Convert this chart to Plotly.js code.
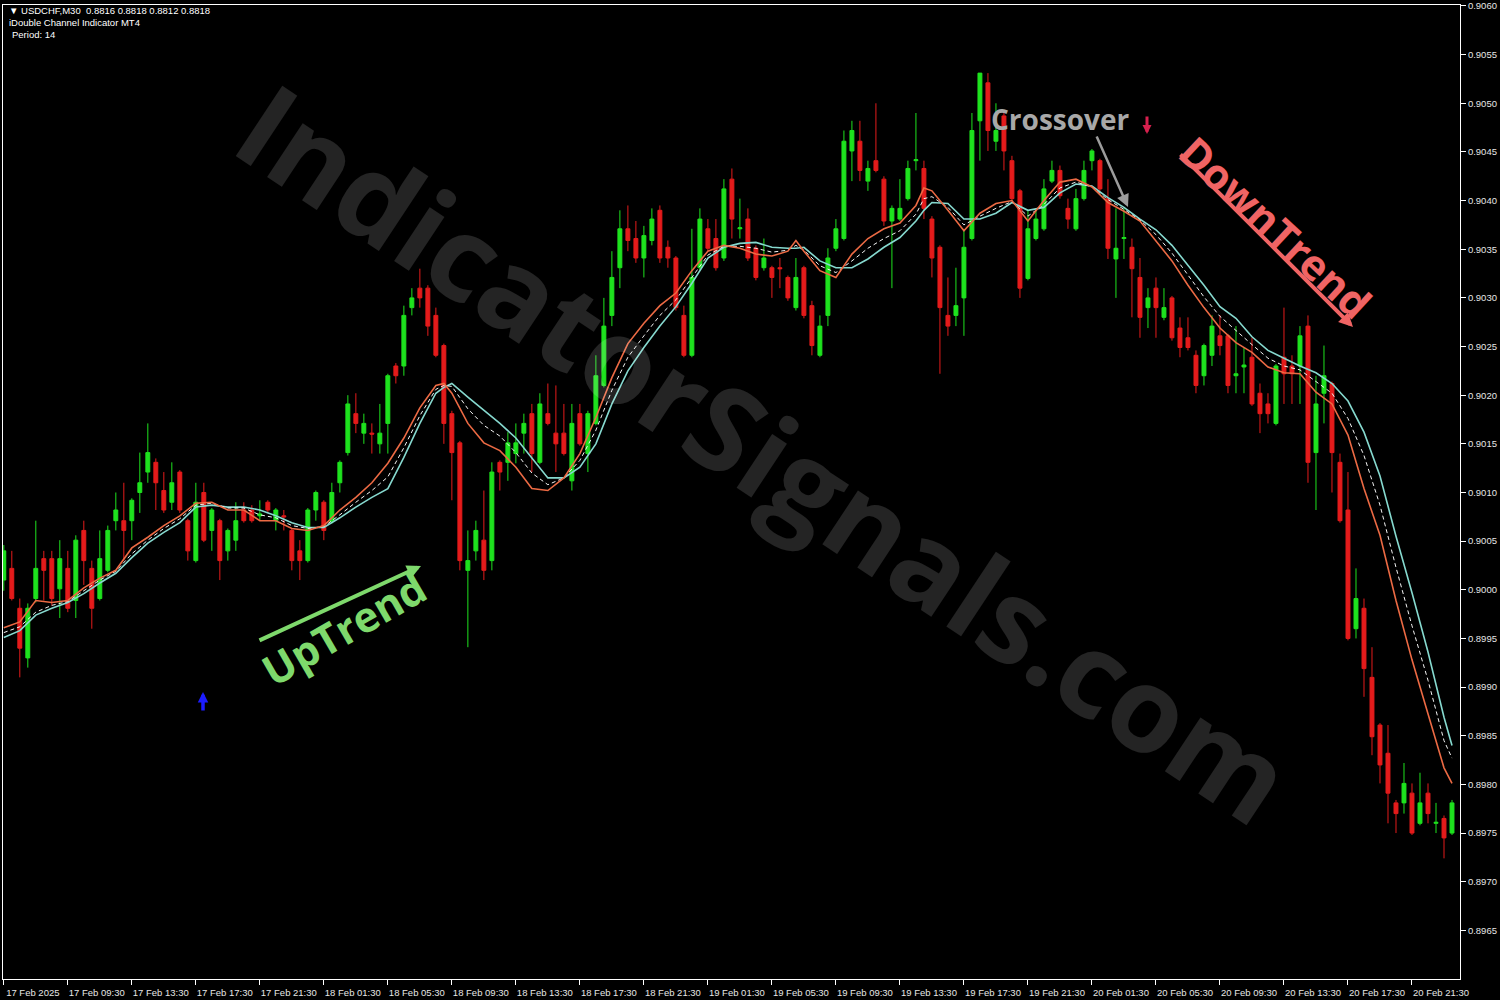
<!DOCTYPE html>
<html><head><meta charset="utf-8">
<script src="https://cdn.plot.ly/plotly-3.0.1.min.js"></script>
<style>html,body{margin:0;padding:0;background:#000;}#chart{width:1500px;height:1000px;}</style>
</head><body><div id="chart"></div>
<script>
// ---- header texts ----
const headerLine1 = "\u25BC USDCHF,M30\u00a0\u00a00.8816 0.8818 0.8812 0.8818";
const headerLine2 = "iDouble Channel Indicator MT4";
const headerLine3 = "Period: 14";

// ---- time axis (M30 bars starting 17 Feb 2025 05:30) ----
const startUTC = Date.UTC(2025, 1, 17, 5, 30);
const barMinutes = 30;
const tickBars = [0,8,16,24,32,40,48,56,64,72,80,88,96,104,112,120,128,136,144,152,160,168,176];
const tickLabels = ["17 Feb 2025","17 Feb 09:30","17 Feb 13:30","17 Feb 17:30","17 Feb 21:30",
  "18 Feb 01:30","18 Feb 05:30","18 Feb 09:30","18 Feb 13:30","18 Feb 17:30","18 Feb 21:30",
  "19 Feb 01:30","19 Feb 05:30","19 Feb 09:30","19 Feb 13:30","19 Feb 17:30","19 Feb 21:30",
  "20 Feb 01:30","20 Feb 05:30","20 Feb 09:30","20 Feb 13:30","20 Feb 17:30","20 Feb 21:30"];
const priceTicks = [0.8965,0.8970,0.8975,0.8980,0.8985,0.8990,0.8995,0.9000,0.9005,0.9010,0.9015,
  0.9020,0.9025,0.9030,0.9035,0.9040,0.9045,0.9050,0.9055,0.9060];

// ---- candles ----
const open = [.90010,.90022,.89981,.89930,.89991,.90032,.90032,.90001,.90022,.89989,
.90061,.90022,.89991,.90020,.90071,.90071,.90071,.90100,.90121,.90131,
.90102,.90090,.90121,.90071,.90030,.90100,.90061,.90071,.90040,.90051,
.90082,.90082,.90076,.90090,.90071,.90076,.90061,.90040,.90030,.90082,
.90090,.90070,.90110,.90141,.90181,.90161,.90161,.90150,.90171,.90230,
.90230,.90290,.90310,.90310,.90282,.90251,.90181,.90151,.90020,.90040,
.90051,.90030,.90131,.90131,.90140,.90161,.90181,.90131,.90181,.90161,
.90161,.90112,.90181,.90140,.90171,.90210,.90282,.90331,.90371,.90361,
.90341,.90359,.90390,.90352,.90341,.90282,.90241,.90331,.90371,.90361,
.90341,.90422,.90371,.90381,.90351,.90331,.90331,.90331,.90321,.90290,
.90331,.90292,.90241,.90282,.90351,.90361,.90451,.90461,.90420,.90441,
.90422,.90379,.90381,.90402,.90441,.90433,.90381,.90352,.90282,.90282,
.90300,.90361,.90482,.90521,.90461,.90487,.90441,.90410,.90320,.90361,
.90371,.90420,.90431,.90392,.90371,.90402,.90441,.90441,.90402,.90340,
.90361,.90352,.90321,.90290,.90310,.90280,.90300,.90269,.90259,.90241,
.90220,.90241,.90261,.90261,.90220,.90229,.90239,.90202,.90191,.90171,
.90239,.90230,.90230,.90271,.90141,.90202,.90212,.90131,.90082,.89960,
.89981,.89910,.89861,.89832,.89781,.89781,.89791,.89760,.89791,.89760,
.89765,.89750];
const high = [.90046,.90040,.89991,.89986,.90071,.90040,.90040,.90051,.90040,.90056,
.90071,.90030,.90061,.90066,.90100,.90110,.90094,.90141,.90171,.90135,
.90121,.90131,.90123,.90073,.90110,.90110,.90084,.90073,.90063,.90090,
.90090,.90087,.90092,.90092,.90084,.90082,.90063,.90051,.90084,.90102,
.90092,.90110,.90133,.90200,.90202,.90181,.90171,.90191,.90222,.90233,
.90292,.90310,.90330,.90313,.90290,.90253,.90184,.90153,.90061,.90071,
.90102,.90131,.90133,.90162,.90171,.90181,.90191,.90202,.90212,.90210,
.90191,.90191,.90191,.90184,.90241,.90300,.90348,.90390,.90395,.90379,
.90374,.90392,.90395,.90359,.90343,.90292,.90371,.90392,.90381,.90381,
.90422,.90433,.90402,.90392,.90354,.90361,.90333,.90341,.90323,.90341,
.90333,.90297,.90282,.90351,.90381,.90472,.90482,.90482,.90441,.90500,
.90425,.90395,.90422,.90441,.90490,.90441,.90384,.90354,.90321,.90331,
.90371,.90490,.90531,.90531,.90500,.90492,.90446,.90412,.90390,.90392,
.90422,.90441,.90436,.90402,.90412,.90441,.90453,.90443,.90422,.90392,
.90392,.90361,.90341,.90310,.90321,.90310,.90302,.90280,.90280,.90246,
.90253,.90282,.90282,.90263,.90271,.90249,.90259,.90212,.90202,.90232,
.90290,.90241,.90271,.90282,.90220,.90251,.90214,.90140,.90121,.90022,
.89991,.89941,.89863,.89861,.89784,.89822,.89801,.89812,.89801,.89781,
.89768,.89784];
const low = [.89999,.89989,.89910,.89920,.89987,.89989,.89984,.89971,.89977,.89971,
.90005,.89960,.89989,.90018,.90061,.90030,.90051,.90079,.90110,.90082,
.90079,.90082,.90079,.90030,.90028,.90049,.90040,.90010,.90030,.90040,
.90069,.90069,.90071,.90079,.90061,.90061,.90020,.90010,.90028,.90071,
.90051,.90068,.90100,.90138,.90161,.90150,.90140,.90140,.90140,.90212,
.90220,.90282,.90290,.90261,.90239,.90150,.90092,.90020,.89941,.90030,
.90010,.90020,.90102,.90112,.90130,.90140,.90121,.90129,.90169,.90121,
.90138,.90102,.90148,.90121,.90169,.90208,.90271,.90310,.90348,.90336,
.90321,.90354,.90336,.90331,.90287,.90239,.90239,.90328,.90348,.90328,
.90338,.90361,.90361,.90338,.90318,.90328,.90300,.90310,.90297,.90287,
.90279,.90241,.90239,.90271,.90348,.90359,.90420,.90420,.90410,.90429,
.90374,.90310,.90379,.90400,.90431,.90381,.90321,.90222,.90261,.90271,
.90261,.90359,.90441,.90451,.90451,.90431,.90400,.90300,.90318,.90359,
.90369,.90418,.90402,.90371,.90369,.90400,.90431,.90410,.90340,.90300,
.90340,.90280,.90259,.90269,.90259,.90277,.90256,.90239,.90246,.90202,
.90210,.90230,.90241,.90202,.90202,.90202,.90189,.90161,.90171,.90169,
.90191,.90191,.90191,.90110,.90082,.90171,.90100,.90069,.89948,.89950,
.89890,.89830,.89801,.89760,.89750,.89770,.89748,.89758,.89760,.89750,
.89724,.89748];
const close = [.90040,.89991,.89940,.89981,.90022,.90020,.89991,.90032,.89981,.90051,
.90030,.89981,.90032,.90061,.90082,.90061,.90092,.90110,.90141,.90110,
.90082,.90110,.90082,.90040,.90090,.90051,.90082,.90030,.90061,.90071,
.90071,.90071,.90078,.90082,.90082,.90075,.90030,.90030,.90082,.90100,
.90061,.90100,.90131,.90191,.90171,.90171,.90160,.90161,.90220,.90220,
.90282,.90300,.90300,.90271,.90241,.90171,.90141,.90030,.90030,.90061,
.90020,.90121,.90121,.90151,.90151,.90171,.90140,.90191,.90171,.90150,
.90140,.90171,.90150,.90181,.90220,.90271,.90321,.90371,.90359,.90341,
.90364,.90381,.90341,.90341,.90290,.90241,.90321,.90381,.90351,.90331,
.90412,.90381,.90372,.90341,.90321,.90341,.90321,.90330,.90300,.90321,
.90282,.90251,.90271,.90341,.90371,.90461,.90472,.90431,.90433,.90431,
.90379,.90392,.90392,.90433,.90442,.90392,.90341,.90290,.90271,.90292,
.90352,.90472,.90531,.90472,.90472,.90451,.90402,.90310,.90371,.90381,
.90412,.90431,.90405,.90381,.90402,.90431,.90451,.90412,.90351,.90351,
.90362,.90330,.90280,.90300,.90290,.90290,.90259,.90249,.90249,.90210,
.90251,.90271,.90251,.90210,.90222,.90231,.90191,.90181,.90181,.90230,
.90222,.90222,.90261,.90131,.90191,.90220,.90141,.90071,.89950,.89991,
.89919,.89849,.89820,.89791,.89770,.89801,.89750,.89781,.89770,.89761,
.89745,.89781];

// ---- channel lines (read at these bar numbers) ----
const lineBars = [0,2,4,6,8,10,12,14,16,18,20,22,24,26,28,30,32,34,36,38,40,42,44,46,48,50,52,54,55,
56,58,60,62,64,66,68,70,72,74,76,78,80,82,84,86,88,90,92,94,96,98,99,
100,102,104,106,108,110,112,114,115,
116,118,120,122,124,126,128,130,132,134,136,138,140,142,144,146,148,150,152,154,156,158,160,162,164,166,168,170,172,174,176,178,180,181];
const fastLine = [.89961,.89967,.89989,.89987,.89989,.90002,.90012,.90020,.90043,.90054,.90066,.90076,.90089,.90090,.90082,.90082,.90071,.90071,.90063,.90061,.90066,.90082,.90095,.90110,.90130,.90156,.90187,.90210,.90212,
.90202,.90171,.90151,.90143,.90126,.90104,.90102,.90115,.90140,.90177,.90218,.90253,.90274,.90292,.90305,.90328,.90348,.90354,.90351,.90345,.90343,.90348,.90359,
.90348,.90328,.90321,.90345,.90361,.90371,.90377,.90395,.90413,
.90410,.90390,.90369,.90387,.90397,.90400,.90379,.90400,.90419,.90422,.90414,.90398,.90389,.90379,.90359,.90338,.90313,.90290,.90269,.90254,.90244,.90229,.90223,.90222,.90203,.90191,.90159,.90104,.90056,.89989,.89928,.89873,.89817,.89801];
const midLine = [.89956,.89962,.89977,.89984,.89988,.89999,.90010,.90019,.90037,.90051,.90063,.90073,.90087,.90089,.90084,.90084,.90077,.90074,.90066,.90063,.90065,.90077,.90090,.90102,.90116,.90146,.90179,.90206,.90210,
.90209,.90186,.90169,.90158,.90141,.90120,.90108,.90115,.90133,.90164,.90205,.90239,.90261,.90282,.90298,.90321,.90344,.90353,.90353,.90351,.90347,.90349,.90354,
.90349,.90333,.90326,.90338,.90351,.90361,.90369,.90386,.90402,
.90404,.90393,.90375,.90384,.90392,.90399,.90384,.90396,.90413,.90419,.90414,.90401,.90391,.90380,.90365,.90346,.90324,.90301,.90281,.90266,.90252,.90238,.90230,.90226,.90214,.90202,.90176,.90138,.90087,.90023,.89963,.89907,.89845,.89827];
const slowLine = [.89951,.89958,.89974,.89981,.89987,.89996,.90007,.90017,.90033,.90048,.90059,.90069,.90085,.90087,.90085,.90085,.90082,.90076,.90069,.90064,.90064,.90074,.90085,.90095,.90104,.90136,.90171,.90202,.90208,
.90212,.90198,.90184,.90171,.90156,.90135,.90115,.90115,.90126,.90150,.90191,.90225,.90249,.90271,.90291,.90315,.90341,.90352,.90356,.90357,.90352,.90351,.90351,
.90352,.90338,.90331,.90331,.90340,.90352,.90362,.90379,.90390,
.90398,.90397,.90381,.90381,.90387,.90398,.90390,.90393,.90408,.90417,.90415,.90403,.90393,.90381,.90370,.90354,.90334,.90313,.90291,.90279,.90260,.90246,.90238,.90230,.90223,.90212,.90194,.90162,.90117,.90055,.89997,.89936,.89869,.89840];

// ---- styling ----
const UP = '#1ee21e', DOWN = '#e41b1b';
function barTime(i){
  const d = new Date(startUTC + i * barMinutes * 60000);
  return d.toISOString().slice(0,19).replace('T',' ');
}
const times = open.map((_, i) => barTime(i));
const lineTimes = lineBars.map(barTime);

const ML = 3, MT = 5, PW = 1457, PH = 974;
function P(px, py){ return {x: (px - ML) / PW, y: 1 - (py - MT) / PH}; }
function txt(text, px, py, opt){
  const p = P(px, py);
  return Object.assign({xref:'paper', yref:'paper', x:p.x, y:p.y, text:text, showarrow:false,
    xanchor:'center', yanchor:'middle'}, opt);
}
function arrow(hx, hy, tx, ty, color, width, head, size){
  const p = P(hx, hy);
  return {xref:'paper', yref:'paper', x:p.x, y:p.y, text:'', showarrow:true,
    ax: tx - hx, ay: ty - hy, axref:'pixel', ayref:'pixel',
    arrowcolor:color, arrowwidth:width, arrowhead:head, arrowsize:size, standoff:0, startstandoff:0};
}

const traces = [
  {type:'candlestick', x:times, open:open, high:high, low:low, close:close,
   increasing:{line:{color:UP, width:1}, fillcolor:UP},
   decreasing:{line:{color:DOWN, width:1}, fillcolor:DOWN},
   whiskerwidth:0, hoverinfo:'skip', showlegend:false},
  {type:'scatter', mode:'lines', x:lineTimes, y:slowLine, line:{color:'#86d9cf', width:1.6}, hoverinfo:'skip', showlegend:false},
  {type:'scatter', mode:'lines', x:lineTimes, y:midLine, line:{color:'#f4f4f4', width:1, dash:'4px,3px'}, hoverinfo:'skip', showlegend:false},
  {type:'scatter', mode:'lines', x:lineTimes, y:fastLine, line:{color:'#ec6a44', width:1.6}, hoverinfo:'skip', showlegend:false}
];

const hdrFont = {family:'Liberation Sans, Arial, sans-serif', size:9.5, color:'#ffffff'};
const annotations = [
  txt('IndicatorSignals.com', 766, 452, {textangle:33.5, font:{family:'Open Sans, sans-serif', size:118, weight:700, color:'rgba(255,255,255,0.14)'}}),
  txt(headerLine1, 7, 10, {xanchor:'left', font:hdrFont}),
  txt(headerLine2, 7, 23, {xanchor:'left', font:hdrFont}),
  txt(headerLine3, 10, 35, {xanchor:'left', font:hdrFont}),
  txt('Crossover', 1060, 119, {font:{family:'Open Sans, sans-serif', size:28, weight:700, color:'#a8a8a8'}}),
  arrow(1128, 207, 1096, 135, '#9c9c9c', 2.5, 2, 1),
  arrow(1147, 134, 1147, 115, '#d6204e', 3, 2, 0.6),
  arrow(203, 692, 203, 712, '#1c1cff', 3.5, 2, 0.6),
  txt('UpTrend', 343, 628, {textangle:-30, font:{family:'Open Sans, sans-serif', size:42, weight:700, color:'#7ed96c'}}),
  arrow(421, 566, 258, 641, '#7ed96c', 4, 2, 0.7),
  txt('DownTrend', 1276, 226, {textangle:43, font:{family:'Open Sans, sans-serif', size:42, weight:700, color:'#f06464'}}),
  arrow(1353, 327, 1179, 153, '#f06464', 4, 2, 0.7)
];

const axisFont = {family:'Liberation Sans, Arial, sans-serif', size:9.5, color:'#e6e6e6'};
const layout = {
  width:1500, height:1000,
  paper_bgcolor:'#000000', plot_bgcolor:'#000000',
  margin:{l:ML, r:40, t:MT, b:21},
  showlegend:false, hovermode:false,
  xaxis:{type:'date', range:[barTime(-0.1), barTime(182)], rangeslider:{visible:false},
    showgrid:false, zeroline:false, showline:true, linecolor:'#ffffff', linewidth:1, mirror:true,
    ticks:'outside', ticklen:5, tickcolor:'#ffffff', tickwidth:1,
    tickmode:'array', tickvals:tickBars.map(barTime), ticktext:tickLabels,
    tickfont:axisFont, ticklabelshift:29, ticklabelstandoff:0, fixedrange:true},
  yaxis:{side:'right', range:[0.8960, 0.90601], showgrid:false, zeroline:false,
    showline:true, linecolor:'#ffffff', linewidth:1, mirror:true,
    ticks:'outside', ticklen:5, tickcolor:'#ffffff', tickwidth:1,
    tickmode:'array', tickvals:priceTicks, ticktext:priceTicks.map(v => v.toFixed(4)),
    tickfont:axisFont, fixedrange:true},
  annotations:annotations
};

Plotly.newPlot('chart', traces, layout, {displayModeBar:false, staticPlot:true});
</script>
</body></html>
